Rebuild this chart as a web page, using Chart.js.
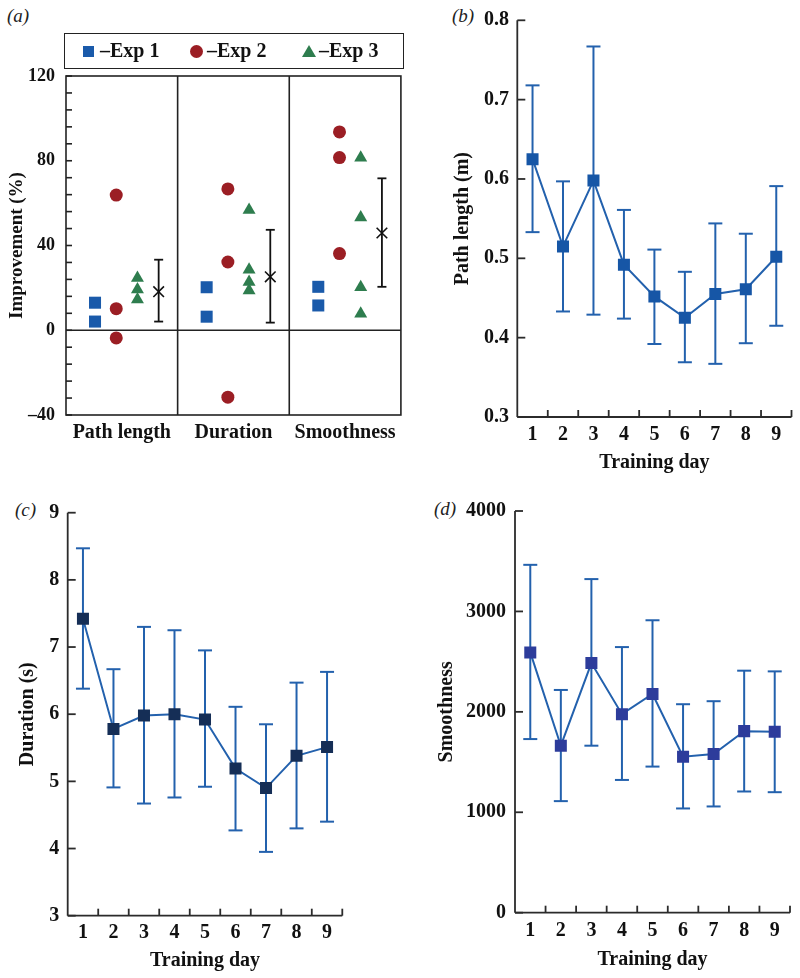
<!DOCTYPE html>
<html>
<head>
<meta charset="utf-8">
<script src="https://cdn.jsdelivr.net/npm/chart.js@4.4.0/dist/chart.umd.min.js"></script>
<style>
  body { margin: 0; background: #fff; width: 800px; height: 978px; position: relative; overflow: hidden; }
  .panel { position: absolute; }
  .tag { position: absolute; font: italic 19px 'Liberation Serif', serif; color: #222; }
  #legend { position: absolute; left: 64px; top: 33px; width: 340px; height: 36px; border: 1.6px solid #222;
    box-sizing: border-box; font: bold 20px 'Liberation Serif', serif; color: #111; }
  #legend span { position: absolute; }
  #legend .txt { top: 0; line-height: 33px; }
  .sq { width: 11px; height: 11px; background: #1a5aaa; top: 12px; }
  .ci { width: 13px; height: 13px; border-radius: 50%; background: #9b1e24; top: 11px; }
  .tr { width: 0; height: 0; border-left: 7px solid transparent; border-right: 7px solid transparent;
    border-bottom: 12px solid #2e7d4e; top: 11px; }
</style>
</head>
<body>
<div class="tag" style="left:7px;top:5px">(a)</div>
<div class="tag" style="left:452px;top:5px">(b)</div>
<div class="tag" style="left:15px;top:499px">(c)</div>
<div class="tag" style="left:434px;top:498px">(d)</div>

<div class="panel" style="left:0;top:0;width:410px;height:490px"><canvas id="chartA"></canvas></div>
<div class="panel" style="left:420px;top:0;width:380px;height:490px"><canvas id="chartB"></canvas></div>
<div class="panel" style="left:0;top:490px;width:400px;height:488px"><canvas id="chartC"></canvas></div>
<div class="panel" style="left:420px;top:490px;width:380px;height:488px"><canvas id="chartD"></canvas></div>

<div id="legend">
  <span class="sq" style="left:18px"></span><span class="txt" style="left:35px">–Exp 1</span>
  <span class="ci" style="left:125px"></span><span class="txt" style="left:142px">–Exp 2</span>
  <span class="tr" style="left:237px"></span><span class="txt" style="left:254px">–Exp 3</span>
</div>

<script>
// panel (a): improvement per measure, one list per measure
const categoriesA = ['Path length', 'Duration', 'Smoothness'];
const exp1 = [[13.0, 4.1], [20.3, 6.4], [20.5, 11.7]];
const exp2 = [[63.8, 10.2, -3.6], [66.7, 32.2, -31.6], [93.6, 81.5, 36.2]];
const exp3 = [[24.7, 19.2, 14.5], [56.8, 28.6, 22.8, 18.8], [81.4, 53.2, 20.3, 7.8]];
const meanA = [18.2, 25.2, 45.9];
const meanHighA = [33.3, 47.4, 71.7];
const meanLowA = [4.1, 3.6, 20.5];

// panels (b)-(d): per training day
const days = ['1', '2', '3', '4', '5', '6', '7', '8', '9'];
const pathMean = [0.625, 0.515, 0.598, 0.492, 0.452, 0.425, 0.455, 0.461, 0.502];
const pathHigh = [0.718, 0.597, 0.767, 0.561, 0.511, 0.483, 0.544, 0.531, 0.591];
const pathLow = [0.533, 0.433, 0.429, 0.424, 0.392, 0.369, 0.367, 0.393, 0.415];
const durMean = [7.42, 5.78, 5.98, 6.00, 5.92, 5.19, 4.90, 5.38, 5.51];
const durHigh = [8.47, 6.67, 7.30, 7.25, 6.95, 6.11, 5.85, 6.47, 6.63];
const durLow = [6.38, 4.91, 4.67, 4.76, 4.92, 4.27, 3.95, 4.30, 4.40];
const smoothMean = [2592, 1663, 2486, 1977, 2178, 1554, 1580, 1808, 1802];
const smoothHigh = [3464, 2218, 3322, 2645, 2912, 2076, 2106, 2410, 2403];
const smoothLow = [1729, 1111, 1663, 1322, 1455, 1038, 1058, 1207, 1200];

const FONT = "'Liberation Serif', serif";
const lineBlue = '#2361ad';

// axes, frame, inward ticks and error bars
const framePlugin = {
  id: 'frame',
  beforeDatasetsDraw(chart, args, o) {
    const { ctx, chartArea: a, scales: { x, y } } = chart;
    const line = (x1, y1, x2, y2) => { ctx.beginPath(); ctx.moveTo(x1, y1); ctx.lineTo(x2, y2); ctx.stroke(); };
    ctx.save();
    ctx.strokeStyle = o.color || '#222';
    ctx.lineWidth = o.width || 1.6;
    if (o.box) ctx.strokeRect(a.left, a.top, a.width, a.height);
    else { line(a.left, a.top, a.left, a.bottom); line(a.left, a.bottom, a.right, a.bottom); }
    (o.dividers || []).forEach(v => { const px = x.getPixelForValue(v); line(px, a.top, px, a.bottom); });
    if (o.zeroLine) { const py = y.getPixelForValue(0); line(a.left, py, a.right, py); }
    y.ticks.forEach(t => { const py = y.getPixelForValue(t.value); line(a.left, py, a.left + o.yTick, py); });
    if (o.xTick) {
      for (let k = 1; k <= x.ticks.length; k++) {
        const px = x.getPixelForValue(k - 0.5);
        line(px, a.bottom, px, a.bottom - o.xTick);
      }
    }
    chart.data.datasets.forEach((ds, i) => {
      if (!ds.errHigh) return;
      ctx.strokeStyle = ds.errColor;
      ctx.lineWidth = ds.errWidth;
      chart.getDatasetMeta(i).data.forEach((pt, j) => {
        const t = y.getPixelForValue(ds.errHigh[j]), b = y.getPixelForValue(ds.errLow[j]);
        line(pt.x, t, pt.x, b);
        line(pt.x - ds.errCap, t, pt.x + ds.errCap, t);
        line(pt.x - ds.errCap, b, pt.x + ds.errCap, b);
      });
    });
    ctx.restore();
  }
};
Chart.register(framePlugin);

// where each series sits inside its measure's section
const offsetsA = [0.26, 0.45, 0.64, 0.83];
function sectionPoints(groups, off) {
  const pts = [];
  groups.forEach((vals, c) => vals.forEach(v => pts.push({ x: c + off, y: v })));
  return pts;
}

new Chart(document.getElementById('chartA'), {
  type: 'scatter',
  data: {
    datasets: [
      { data: sectionPoints(exp1, offsetsA[0]), pointStyle: 'rect', pointRadius: 8.5, pointBackgroundColor: '#1a5aaa', pointBorderWidth: 0 },
      { data: sectionPoints(exp2, offsetsA[1]), pointStyle: 'circle', pointRadius: 6.5, pointBackgroundColor: '#9b1e24', pointBorderWidth: 0 },
      { data: sectionPoints(exp3, offsetsA[2]), pointStyle: 'triangle', pointRadius: 7.5, pointBackgroundColor: '#2e7d4e', pointBorderWidth: 0 },
      { data: meanA.map((v, c) => ({ x: c + offsetsA[3], y: v })), pointStyle: 'crossRot', pointRadius: 7.5,
        pointBorderColor: '#111', pointBorderWidth: 1.6,
        errHigh: meanHighA, errLow: meanLowA, errColor: '#111', errWidth: 1.8, errCap: 4.5 }
    ]
  },
  options: {
    responsive: true, maintainAspectRatio: false, animation: false,
    layout: { padding: { left: 2, top: 76, right: 7, bottom: 0 } },
    plugins: {
      legend: { display: false }, tooltip: { enabled: false },
      frame: { box: true, dividers: [1, 2], zeroLine: true, yTick: 6, color: '#222', width: 1.6 }
    },
    scales: {
      x: {
        type: 'linear', min: 0, max: 3,
        grid: { display: false, drawTicks: false }, border: { display: false },
        ticks: { stepSize: 0.5, autoSkip: false, maxRotation: 0, padding: 6, color: '#111',
          font: { family: FONT, size: 20, weight: 'bold' },
          callback: v => (v % 1 === 0.5 ? categoriesA[Math.floor(v)] : '') },
        afterFit: s => { s.height = 75; }
      },
      y: {
        min: -40, max: 120,
        grid: { display: false, drawTicks: false }, border: { display: false },
        ticks: { stepSize: 8, autoSkip: false, padding: 11, color: '#111',
          font: { family: FONT, size: 18, weight: 'bold' },
          callback: v => (v % 40 === 0 ? (v < 0 ? '–' + Math.abs(v) : String(v)) : '') },
        title: { display: true, text: 'Improvement (%)', color: '#111', font: { family: FONT, size: 19, weight: 'bold' } },
        afterFit: s => { s.width = 64; }
      }
    }
  }
});

function dayChart(id, mean, high, low, markColor, yTitle, yMin, yMax, yStep, fmt, lay) {
  new Chart(document.getElementById(id), {
    type: 'line',
    data: {
      labels: days,
      datasets: [{
        data: mean, borderColor: lineBlue, borderWidth: 2, tension: 0,
        pointStyle: 'rect', pointRadius: 8.5, pointBackgroundColor: markColor, pointBorderWidth: 0,
        errHigh: high, errLow: low, errColor: lineBlue, errWidth: 2, errCap: 7
      }]
    },
    options: {
      responsive: true, maintainAspectRatio: false, animation: false,
      layout: { padding: lay.pad },
      plugins: {
        legend: { display: false }, tooltip: { enabled: false },
        frame: { box: false, yTick: 8, xTick: 7, color: '#2b2b2b', width: 1.8 }
      },
      scales: {
        x: {
          offset: true,
          grid: { display: false, drawTicks: false }, border: { display: false },
          ticks: { padding: lay.xPad, maxRotation: 0, color: '#111', font: { family: FONT, size: 20, weight: 'bold' } },
          title: { display: true, text: 'Training day', color: '#111', font: { family: FONT, size: 20, weight: 'bold' } },
          afterFit: s => { s.height = lay.xH; }
        },
        y: {
          min: yMin, max: yMax,
          grid: { display: false, drawTicks: false }, border: { display: false },
          ticks: { stepSize: yStep, padding: lay.yPad, color: '#111', font: { family: FONT, size: 20, weight: 'bold' }, callback: fmt },
          title: { display: true, text: yTitle, color: '#111', font: { family: FONT, size: 20, weight: 'bold' } },
          afterFit: s => { s.width = lay.yW; }
        }
      }
    }
  });
}

dayChart('chartB', pathMean, pathHigh, pathLow, '#1656a6', 'Path length (m)', 0.3, 0.8, 0.1, v => v.toFixed(1),
  { pad: { left: 26.5, top: 14.3, right: 8.3, bottom: 11.3 }, yW: 70.8, xH: 61.7, xPad: 6, yPad: 8.3 });
dayChart('chartC', durMean, durHigh, durLow, '#152e56', 'Duration (s)', 3, 9, 1, v => String(v),
  { pad: { left: 11.6, top: 22.7, right: 57.7, bottom: 1.3 }, yW: 56.1, xH: 61, xPad: 5.6, yPad: 8.4 });
dayChart('chartD', smoothMean, smoothHigh, smoothLow, '#2d3c9b', 'Smoothness', 0, 4000, 1000, v => String(v),
  { pad: { left: 10.7, top: 19.3, right: 10, bottom: 2 }, yW: 84.3, xH: 63.3, xPad: 6, yPad: 9 });
</script>
</body>
</html>
